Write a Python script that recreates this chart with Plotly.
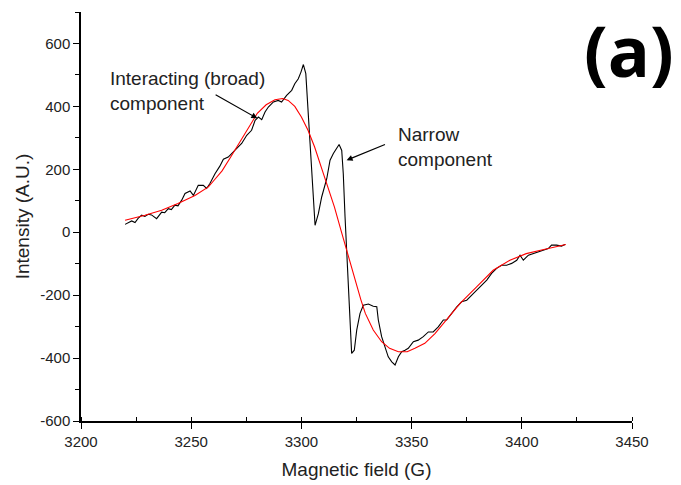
import plotly.graph_objects as go

# Experimental EPR spectrum (black)
field_exp = [3220, 3221.5, 3223, 3224.5, 3226, 3227.5, 3229, 3230.5, 3232, 3234.3, 3236.6, 3238,
             3239.6, 3241, 3242.6, 3244, 3245.7, 3247.2, 3249.5, 3251, 3253.2, 3255.5, 3257, 3258.5,
             3260.8, 3263, 3264.6, 3266.8, 3269.1, 3270.6, 3272.9, 3275.2, 3277.4, 3279, 3280.5, 3282,
             3283.5, 3285, 3287.3, 3289.5, 3291, 3293.3, 3295.6, 3297, 3298.6, 3299.8, 3300.9, 3302,
             3303.1, 3304.3, 3305.4, 3306.2, 3307.7, 3309.2, 3311.5, 3313, 3314.5, 3316, 3317.1, 3318.3,
             3319, 3319.8, 3320.6, 3321.3, 3322, 3322.8, 3324, 3325.1, 3326.6, 3328.1, 3330.4, 3332.6,
             3334.2, 3334.9, 3336.4, 3337.9, 3339.4, 3341, 3342.5, 3344, 3345.5, 3347, 3348.5, 3350.8,
             3353, 3355.3, 3357.6, 3359.8, 3362.1, 3364.4, 3365.9, 3368.2, 3370.5, 3372.7, 3375, 3377.3,
             3379.5, 3381.8, 3384.1, 3386.3, 3388.6, 3390.8, 3393.1, 3395.4, 3397.7, 3399.2, 3400.7, 3403,
             3405.2, 3407.5, 3409.8, 3412, 3413.5, 3415.8, 3418, 3419.6]
intensity_exp = [25, 30, 36, 31, 45, 54, 50, 57, 55, 43, 64, 62,
                 75, 72, 86, 84, 102, 123, 131, 117, 149, 149, 139, 155,
                 186, 210, 232, 239, 255, 266, 282, 308, 324, 356, 366, 358,
                 382, 398, 414, 419, 414, 435, 451, 472, 488, 509, 533, 504,
                 377, 229, 80, 22, 59, 112, 170, 229, 250, 266, 279, 260,
                 186, 49, -57, -152, -269, -385, -375, -311, -258, -232, -228, -235,
                 -237, -279, -332, -364, -396, -412, -422, -396, -380, -375, -369, -348,
                 -343, -332, -317, -317, -301, -279, -279, -258, -237, -221, -216, -200,
                 -184, -168, -152, -131, -115, -105, -105, -99, -89, -73, -89, -73,
                 -68, -62, -57, -52, -41, -41, -44, -39]

# Fitted broad component (red)
field_fit = [3220, 3229, 3236.6, 3244, 3251.7, 3257.8, 3260, 3264, 3268, 3272, 3276, 3280, 3284,
             3288, 3291.5, 3294, 3297, 3300, 3303, 3306, 3309, 3312, 3315, 3318, 3321, 3324, 3327,
             3329, 3332.6, 3336.4, 3340, 3344, 3348, 3351.5, 3356, 3360.6, 3364.4, 3366, 3372,
             3379.5, 3387, 3394.6, 3402, 3410, 3420]
intensity_fit = [38, 54, 70, 91, 117, 144, 162, 195, 240, 285, 334, 378, 405,
                 421, 425, 419, 400, 366, 324, 271, 207, 145, 80, 5, -70, -145, -215,
                 -258, -311, -348, -369, -380, -380, -369, -353, -322, -290, -274, -226,
                 -174, -121, -89, -68, -55, -39]

x_ticks = [3200, 3250, 3300, 3350, 3400, 3450]
x_labels = ["3200", "3250", "3300", "3350", "3400", "3450"]
y_ticks = [-600, -400, -200, 0, 200, 400, 600]
y_labels = ["-600", "-400", "-200", "0", "200", "400", "600"]

FONT = "Liberation Sans, Arial, sans-serif"
TXT = "#222222"

fig = go.Figure()
fig.add_trace(go.Scatter(x=field_exp, y=intensity_exp, mode="lines",
                         line=dict(color="#000000", width=1.1), showlegend=False))
fig.add_trace(go.Scatter(x=field_fit, y=intensity_fit, mode="lines",
                         line=dict(color="#ff0000", width=1.1), showlegend=False))

fig.update_layout(
    width=681, height=485,
    margin=dict(l=81, r=49, t=12, b=64),
    paper_bgcolor="white", plot_bgcolor="white",
    font=dict(family=FONT, color=TXT),
    xaxis=dict(range=[3200, 3450], tickvals=x_ticks, ticktext=x_labels, automargin=False,
               showline=True, linecolor="black", linewidth=1.5, showgrid=False, zeroline=False,
               ticks="outside", ticklen=6, tickcolor="black", tickwidth=1.2,
               tickfont=dict(size=15, family=FONT, color=TXT),
               minor=dict(ticks="inside", ticklen=4, dtick=25, tickcolor="black", tickwidth=1.2),
               title=dict(text="Magnetic field (G)", font=dict(size=19, family=FONT, color=TXT),
                          standoff=14)),
    yaxis=dict(range=[-600, 700], tickvals=y_ticks, ticktext=y_labels, automargin=False,
               showline=True, linecolor="black", linewidth=1.5, showgrid=False, zeroline=False,
               ticks="outside", ticklen=6, tickcolor="black", tickwidth=1.2,
               tickfont=dict(size=15, family=FONT, color=TXT),
               minor=dict(ticks="outside", ticklen=4, dtick=100, tickcolor="black", tickwidth=1.2),
               title=dict(text="Intensity (A.U.)", font=dict(size=19, family=FONT, color=TXT),
                          standoff=6)),
)

# Annotation texts
fig.add_annotation(x=3212.3, y=449, xref="x", yref="y", text="Interacting (broad)<br>component",
                   showarrow=False, xanchor="left", yanchor="middle", align="left",
                   font=dict(size=19, family=FONT, color=TXT))
fig.add_annotation(x=3280, y=362, ax=3260.4, ay=440, xref="x", yref="y", axref="x", ayref="y",
                   text="", showarrow=True, arrowhead=2, arrowsize=1, arrowwidth=1.2, arrowcolor="black")

fig.add_annotation(x=3343, y=270, xref="x", yref="y", text="Narrow<br>component",
                   showarrow=False, xanchor="left", yanchor="middle", align="left",
                   font=dict(size=19, family=FONT, color=TXT))
fig.add_annotation(x=3320.5, y=229, ax=3338.6, ay=281, xref="x", yref="y", axref="x", ayref="y",
                   text="", showarrow=True, arrowhead=2, arrowsize=1, arrowwidth=1.2, arrowcolor="black")

# Panel label
fig.add_annotation(x=1.0, y=1.0, xref="paper", yref="paper", text="<b>(a)</b>",
                   showarrow=False, xanchor="left", yanchor="top", xshift=-50, yshift=12,
                   font=dict(size=70, family="Open Sans, sans-serif", color="black"))

fig.write_html("out.html")
